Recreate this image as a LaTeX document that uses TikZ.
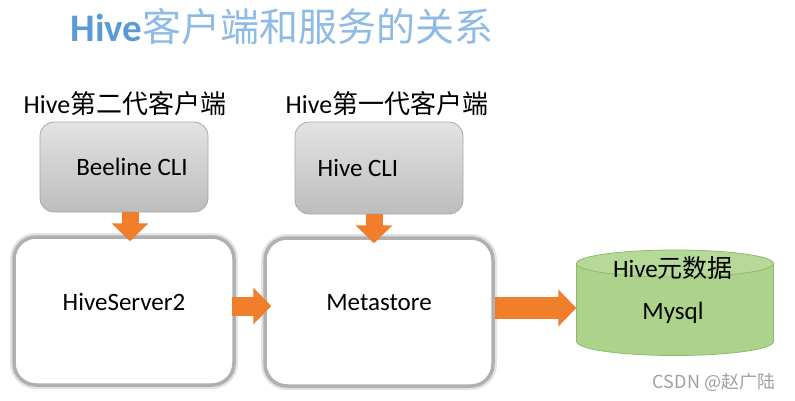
\documentclass[tikz,border=0pt]{standalone}
\usepackage{fontspec}
\setmainfont{Carlito}
\newfontfamily\cjk{Noto Sans CJK SC}
\usetikzlibrary{arrows.meta}
\definecolor{arroworange}{HTML}{F07E2A}
\definecolor{titleblue}{HTML}{5B9BD5}
\definecolor{titlelight}{HTML}{8DBBE6}
\definecolor{cligray}{HTML}{A8A8A8}
\definecolor{dbfill}{HTML}{ADD28C}
\definecolor{dbtop}{HTML}{B6D898}
\definecolor{dbline}{HTML}{8FBA6C}
\begin{document}
\begin{tikzpicture}[x=1pt,y=-1pt,
  clibox/.style={rectangle, rounded corners=14pt, draw=cligray, line width=0.8pt,
    top color=gray!22, bottom color=gray!52, minimum width=168pt, inner sep=0pt,
    font=\fontsize{25}{30}\selectfont},
  bigbox/.style={rectangle, rounded corners=22pt, draw=gray!62, line width=3.5pt,
    fill=white, preaction={draw=gray!22, line width=8pt},
    minimum width=220pt, minimum height=148pt, inner sep=0pt,
    font=\fontsize{25}{30}\selectfont},
  label/.style={font=\fontsize{26}{30}\selectfont, inner sep=0pt},
  blockarrow/.style={draw=arroworange, line width=#1,
    -{Triangle[width=36pt,length=18pt,fill=arroworange]}},
  blockarrow/.default=19pt
]
\useasboundingbox (0,0) rectangle (795,400);

% title
\node[font=\fontsize{39}{44}\selectfont, inner sep=0pt] (title) at (282,27)
  {\textcolor{titleblue}{\bfseries Hive}\textcolor{titlelight}{\cjk 客户端和服务的关系}};

% top labels
\node[label] (lab2) at (125,104) {Hive{\cjk 第二代客户端}};
\node[label] (lab1) at (387,104) {Hive{\cjk 第一代客户端}};

% client boxes
\node[clibox, minimum height=90pt] (bee) at (124,167) {\hspace{16pt}Beeline CLI};
\node[clibox, minimum height=92pt] (hcli) at (379,168) {\hspace{-42pt}Hive CLI};

% server boxes
\node[bigbox] (hs2) at (124,311) {\raisebox{18pt}{HiveServer2}};
\node[bigbox, minimum width=228pt] (meta) at (379,312) {\raisebox{20pt}{Metastore}};

% database cylinder
\node[minimum width=197pt, minimum height=106pt, inner sep=0pt] (db) at (675,302) {};
\fill[dbfill] (576.5,263.5) -- (576.5,341.5)
  arc[start angle=180, end angle=0, x radius=98.5, y radius=14] -- (773.5,263.5) -- cycle;
\draw[dbline, line width=0.8pt] (576.5,263.5) -- (576.5,341.5)
  arc[start angle=180, end angle=0, x radius=98.5, y radius=14] -- (773.5,263.5);
\draw[dbline, fill=dbtop, line width=0.8pt] (675,263.5) ellipse[x radius=98.5, y radius=13.5];
\node[label, font=\fontsize{25}{30}\selectfont] (dbname) at (673,268) {Hive{\cjk 元数据}};
\node[label, font=\fontsize{25}{30}\selectfont] (mysql) at (673,313) {Mysql};

% arrows
\draw[blockarrow=17pt] ([xshift=6pt]bee.south) -- ([xshift=6pt,yshift=-6pt]hs2.north);
\draw[blockarrow=17pt] ([xshift=-5pt]hcli.south) -- ([xshift=-5pt,yshift=-7pt]meta.north);
\draw[blockarrow=19pt] ([xshift=-4pt,yshift=5pt]hs2.east) -- ([xshift=8pt,yshift=6pt]meta.west);
\draw[blockarrow=22pt] ([yshift=4pt]meta.east) -- ([yshift=-6pt]db.west);

% watermark
\node[text=gray!75, font=\cjk\fontsize{18}{20}\selectfont, inner sep=0pt] (wm) at (714,382) {CSDN @赵广陆};
\end{tikzpicture}
\end{document}
